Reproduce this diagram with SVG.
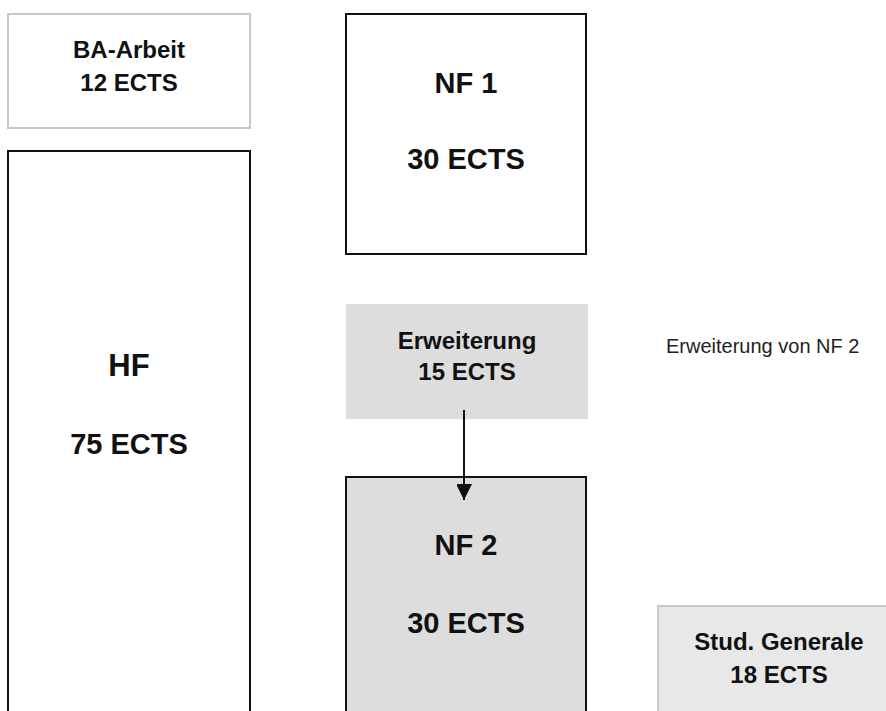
<svg xmlns="http://www.w3.org/2000/svg" width="886" height="711" viewBox="0 0 886 711">
<style>
.t{font-family:"Liberation Sans",Arial,sans-serif;font-weight:bold;fill:#111;text-anchor:middle}
.bw{fill:#fff;stroke:#111;stroke-width:2}
.bg{fill:#fff;stroke:#c8c8c8;stroke-width:2}
.note{font-family:"Liberation Sans",Arial,sans-serif;font-size:20px;fill:#222}
</style>
<defs>
<marker id="ah" markerWidth="16" markerHeight="15" refX="16" refY="8" orient="auto" markerUnits="userSpaceOnUse">
<path d="M0,0 L16,8 L0,16 Z" fill="#111"/>
</marker>
</defs>
<rect width="886" height="711" fill="#fff"/>
<g id="ba-arbeit">
<rect class="bg" x="8" y="14" width="242" height="114"/>
<text class="t" x="129" y="58" font-size="24">BA-Arbeit</text>
<text class="t" x="129" y="91" font-size="24">12 ECTS</text>
</g>
<g id="hf">
<rect class="bw" x="8" y="151" width="242" height="580"/>
<text class="t" x="129" y="376" font-size="31">HF</text>
<text class="t" x="129" y="454" font-size="29">75 ECTS</text>
</g>
<g id="nf1">
<rect class="bw" x="346" y="14" width="240" height="240"/>
<text class="t" x="466" y="93" font-size="29">NF 1</text>
<text class="t" x="466" y="169" font-size="29">30 ECTS</text>
</g>
<g id="erweiterung">
<rect x="346" y="304" width="242" height="115" fill="#dddddd"/>
<text class="t" x="467" y="349" font-size="24">Erweiterung</text>
<text class="t" x="467" y="380" font-size="24">15 ECTS</text>
</g>
<g id="nf2">
<rect x="346" y="477" width="240" height="260" fill="#dddddd" stroke="#111" stroke-width="2"/>
<text class="t" x="466" y="555" font-size="29">NF 2</text>
<text class="t" x="466" y="633" font-size="29">30 ECTS</text>
</g>
<g id="stud-generale">
<rect x="658" y="606" width="242" height="130" fill="#e8e8e8" stroke="#c8c8c8" stroke-width="2"/>
<text class="t" x="779" y="650" font-size="24">Stud. Generale</text>
<text class="t" x="779" y="683" font-size="24">18 ECTS</text>
</g>
<g id="note">
<text class="note" x="666" y="353">Erweiterung von NF 2</text>
</g>
<g id="connectors">
<line x1="464" y1="410" x2="464" y2="500" stroke="#111" stroke-width="2" marker-end="url(#ah)"/>
</g>
</svg>
